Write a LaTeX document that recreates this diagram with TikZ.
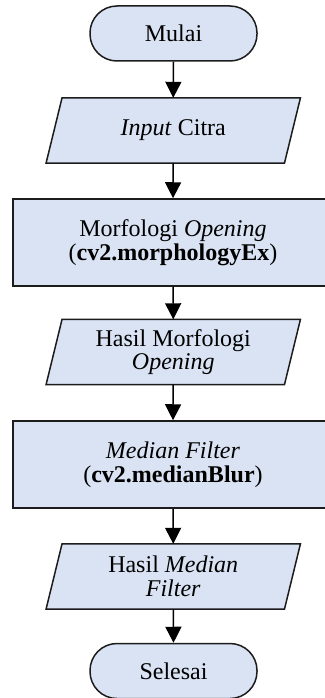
\documentclass[tikz,border=0pt]{standalone}
\usepackage{fontspec}
\setmainfont{Liberation Serif}
\usetikzlibrary{arrows.meta,backgrounds}
\definecolor{boxfill}{HTML}{DAE3F3}
\definecolor{boxline}{HTML}{1C1C1C}
\tikzset{
  label text/.style={align=center, font=\fontsize{24}{23.5}\selectfont, inner sep=0pt},
  outline/.style={draw=boxline, fill=boxfill, line width=1.5pt},
  terminal/.style={label text, outline, rectangle, rounded corners=27pt,
    minimum width=167pt, minimum height=55pt},
  process/.style={label text, outline, rectangle, minimum width=320pt, minimum height=87pt},
  io/.style={label text, rectangle, minimum width=238pt, minimum height=65pt},
  flow/.style={draw=black, line width=1.5pt,
    -{Triangle[width=16pt,length=16pt]}},
}
% parallelogram drawn behind an io node, top edge shifted right
\newcommand\slanted[1]{%
  \begin{scope}[on background layer]
    \draw[outline] ([xshift=8pt]#1.north west) -- ([xshift=8pt]#1.north east)
      -- ([xshift=-8pt]#1.south east) -- ([xshift=-8pt]#1.south west) -- cycle;
  \end{scope}}
\begin{document}
\begin{tikzpicture}[x=1pt,y=-1pt]
  \useasboundingbox (0,0) rectangle (324,698);
  \node[terminal] (start) at (173.5,33.5) {Mulai};
  \node[io] (input) at (173.25,130.5) {\textit{Input} Citra};
  \node[process] (morph) at (173,242.5) {Morfologi \textit{Opening}\\(\textbf{cv2.morphologyEx})};
  \node[io] (morphout) at (173.25,352) {Hasil Morfologi\\\textit{Opening}};
  \node[process] (median) at (173,464.5) {\textit{Median Filter}\\(\textbf{cv2.medianBlur})};
  \node[io] (medianout) at (173.25,576.5) {Hasil \textit{Median}\\\textit{Filter}};
  \node[terminal] (stop) at (173.5,671) {Selesai};
  \slanted{input}
  \slanted{morphout}
  \slanted{medianout}
  \draw[flow] (start.south) -- (input.north);
  \draw[flow] (input.south) -- (morph.north);
  \draw[flow] (morph.south) -- (morphout.north);
  \draw[flow] (morphout.south) -- (median.north);
  \draw[flow] (median.south) -- (medianout.north);
  \draw[flow] (medianout.south) -- (stop.north);
\end{tikzpicture}
\end{document}
